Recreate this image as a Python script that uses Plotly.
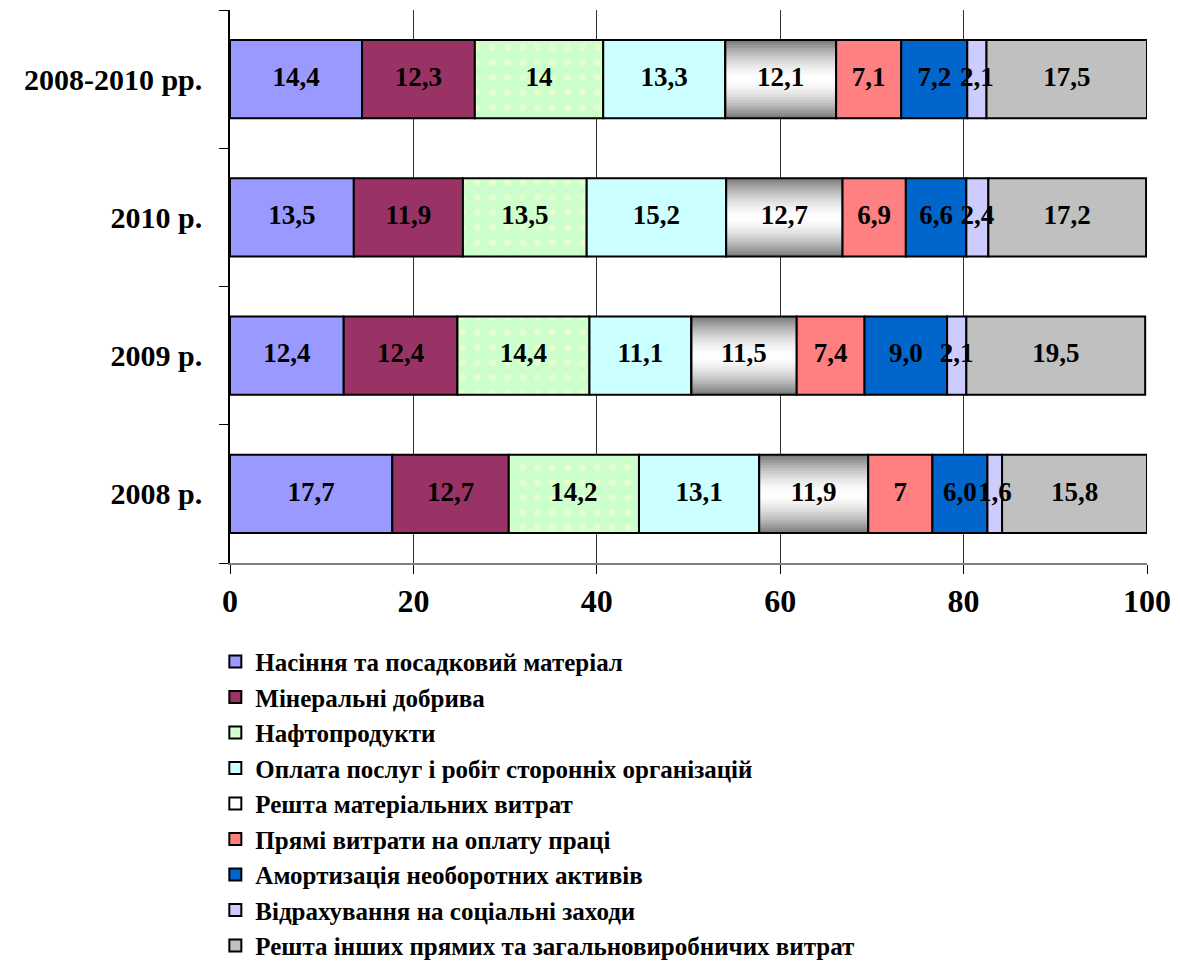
import plotly.graph_objects as go

categories = ["2008 р.", "2009 р.", "2010 р.", "2008-2010 рр."]

series_names = [
    "Насіння та посадковий матеріал",
    "Мінеральні добрива",
    "Нафтопродукти",
    "Оплата послуг і робіт сторонніх організацій",
    "Решта матеріальних витрат",
    "Прямі витрати на оплату праці",
    "Амортизація необоротних активів",
    "Відрахування на соціальні заходи",
    "Решта інших прямих та загальновиробничих витрат",
]

# values per series, in category order: 2008, 2009, 2010, 2008-2010
s1 = [17.7, 12.4, 13.5, 14.4]
s2 = [12.7, 12.4, 11.9, 12.3]
s3 = [14.2, 14.4, 13.5, 14.0]
s4 = [13.1, 11.1, 15.2, 13.3]
s5 = [11.9, 11.5, 12.7, 12.1]
s6 = [7.0, 7.4, 6.9, 7.1]
s7 = [6.0, 9.0, 6.6, 7.2]
s8 = [1.6, 2.1, 2.4, 2.1]
s9 = [15.8, 19.5, 17.2, 17.5]

# data labels as printed in the chart
t1 = ["17,7", "12,4", "13,5", "14,4"]
t2 = ["12,7", "12,4", "11,9", "12,3"]
t3 = ["14,2", "14,4", "13,5", "14"]
t4 = ["13,1", "11,1", "15,2", "13,3"]
t5 = ["11,9", "11,5", "12,7", "12,1"]
t6 = ["7", "7,4", "6,9", "7,1"]
t7 = ["6,0", "9,0", "6,6", "7,2"]
t8 = ["1,6", "2,1", "2,4", "2,1"]
t9 = ["15,8", "19,5", "17,2", "17,5"]

x_ticks = [0, 20, 40, 60, 80, 100]

values = [s1, s2, s3, s4, s5, s6, s7, s8, s9]
texts = [t1, t2, t3, t4, t5, t6, t7, t8, t9]
colors = ["#9999FF", "#993366", "#CCFFCC", "#CCFFFF", "rgba(0,0,0,0)",
          "#FF8080", "#0066CC", "#CCCCFF", "#C0C0C0"]

FONT = "Liberation Serif"
BW = 0.565  # bar thickness in category units

fig = go.Figure()

bases = [[0.0] * len(categories)]
for v in values:
    bases.append([b + x for b, x in zip(bases[-1], v)])

# gradient strips for "Решта матеріальних витрат"
N = 30
for k in range(N):
    t = (k + 0.5) / N * 2 - 1  # -1..1
    g = int(round(255 - (255 - 120) * abs(t) ** 1.6))
    off = -BW / 2 + k * BW / N
    w = min(BW / N * 1.8, BW / 2 - off)
    fig.add_trace(go.Bar(
        y=categories, x=values[4], base=bases[4], orientation="h",
        width=w, offset=off,
        marker=dict(color=f"rgb({g},{g},{g})", line=dict(width=0)),
        showlegend=False, hoverinfo="skip", textposition="none",
    ))

for i, (name, v, c) in enumerate(zip(series_names, values, colors)):
    marker = dict(color=c, line=dict(color="black", width=2))
    if i == 2:
        marker["pattern"] = dict(shape=".", bgcolor="#CCFFCC", fgcolor="#FFFFCC",
                                 size=15, solidity=0.15)
    fig.add_trace(go.Bar(
        y=categories, x=v, base=bases[i], orientation="h", name=name,
        width=BW, marker=marker, textposition="none",
    ))

# data labels drawn on top of all bars
for i, (v, tx) in enumerate(zip(values, texts)):
    fig.add_trace(go.Scatter(
        y=categories, x=[b + x / 2 for b, x in zip(bases[i], v)],
        mode="text", text=tx, textposition="middle center",
        textfont=dict(family=FONT, size=27, color="black", weight="bold"),
        showlegend=False, hoverinfo="skip", cliponaxis=False,
    ))

fig.update_layout(
    barmode="overlay",
    width=1172, height=957,
    margin=dict(l=222, r=33, t=2, b=402, autoexpand=False),
    plot_bgcolor="white", paper_bgcolor="white",
    font=dict(family=FONT, color="black"),
    showlegend=True,
    legend=dict(
        x=-0.016, y=-0.137, xanchor="left", yanchor="top",
        traceorder="normal",
        font=dict(family=FONT, size=25, color="black", weight="bold"),
        itemwidth=30, tracegroupgap=0,
        bgcolor="rgba(0,0,0,0)",
    ),
)

fig.update_xaxes(
    range=[0, 100], tickvals=x_ticks, ticktext=[str(t) for t in x_ticks],
    showgrid=True, gridcolor="#333333", gridwidth=1,
    showline=True, linecolor="#808080", linewidth=2,
    ticks="outside", ticklen=9, tickcolor="black", tickwidth=1,
    tickfont=dict(family=FONT, size=32, color="black", weight="bold"),
    zeroline=False, fixedrange=True, automargin=False,
)
fig.update_yaxes(
    categoryorder="array", categoryarray=categories,
    range=[-0.5, 3.5],
    showline=True, linecolor="black", linewidth=1.5,
    ticks="outside", ticklen=9, tickcolor="black", tickwidth=1,
    tickson="boundaries", ticklabelstandoff=20,
    tickfont=dict(family=FONT, size=30, color="black", weight="bold"),
    showgrid=False, zeroline=False, fixedrange=True, automargin=False,
)

fig.write_html("out.html")
